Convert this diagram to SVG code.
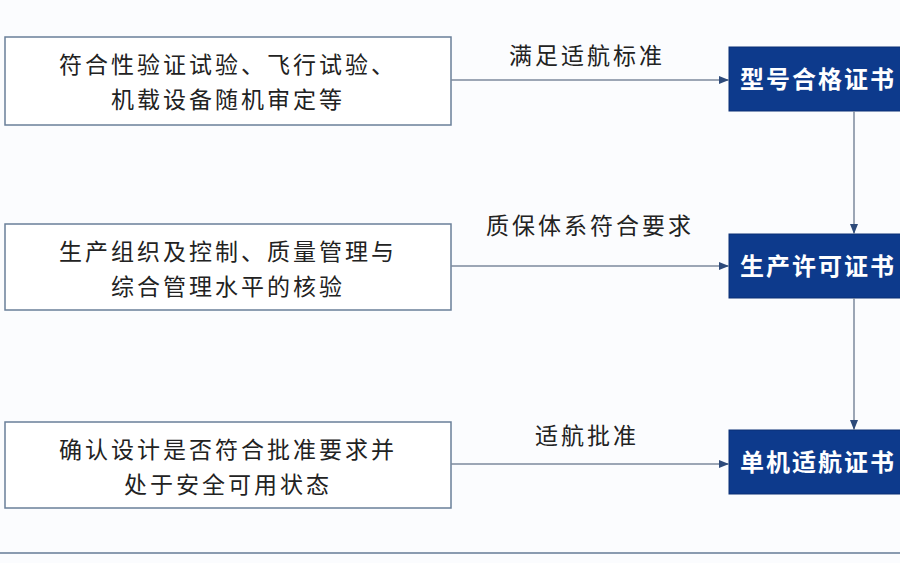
<svg xmlns="http://www.w3.org/2000/svg" width="900" height="563" viewBox="0 0 900 563">
<style>
.lb{fill:#fff;stroke:#6a7f99;stroke-width:1.5}
.rb{fill:#0d3a8c;stroke:#0a2f75;stroke-width:1}
.t{font-family:"Noto Sans CJK SC",sans-serif;font-size:23px;fill:#222;text-anchor:middle;letter-spacing:3px}
.w{font-family:"Noto Sans CJK SC",sans-serif;font-size:24px;fill:#fff;font-weight:bold;letter-spacing:2px}
.c{stroke:#7d8a9c;stroke-width:1.5;fill:none;marker-end:url(#a)}
</style>
<defs><marker id="a" viewBox="0 0 10 10" refX="10" refY="5" markerWidth="7" markerHeight="7" orient="auto"><path d="M0,1 L10,5 L0,9z" fill="#2d4a7a"/></marker></defs>
<rect width="900" height="563" fill="#fbfcfe"/>
<g id="n1"><rect class="lb" x="5" y="37" width="446" height="88"/><text class="t" x="228" y="73">符合性验证试验、飞行试验、</text><text class="t" x="228" y="108">机载设备随机审定等</text></g>
<g id="n2"><rect class="lb" x="5" y="224" width="446" height="86"/><text class="t" x="228" y="260">生产组织及控制、质量管理与</text><text class="t" x="228" y="295">综合管理水平的核验</text></g>
<g id="n3"><rect class="lb" x="5" y="422" width="446" height="86"/><text class="t" x="228" y="458">确认设计是否符合批准要求并</text><text class="t" x="228" y="493">处于安全可用状态</text></g>
<g id="r1"><rect class="rb" x="729" y="47" width="180" height="64"/><text class="w" x="740" y="88">型号合格证书</text></g>
<g id="r2"><rect class="rb" x="729" y="234" width="180" height="64"/><text class="w" x="740" y="275">生产许可证书</text></g>
<g id="r3"><rect class="rb" x="729" y="430" width="180" height="64"/><text class="w" x="740" y="471">单机适航证书</text></g>
<g id="connectors">
<line class="c" x1="451" y1="80" x2="729" y2="80"/>
<line class="c" x1="451" y1="266" x2="729" y2="266"/>
<line class="c" x1="451" y1="464" x2="729" y2="464"/>
<line class="c" x1="854" y1="111" x2="854" y2="234"/>
<line class="c" x1="854" y1="298" x2="854" y2="430"/>
<text class="t" x="587" y="64">满足适航标准</text>
<text class="t" x="590" y="234">质保体系符合要求</text>
<text class="t" x="587" y="444">适航批准</text>
</g>
<line x1="0" y1="553" x2="900" y2="553" stroke="#8a9bb0" stroke-width="2"/>
</svg>
